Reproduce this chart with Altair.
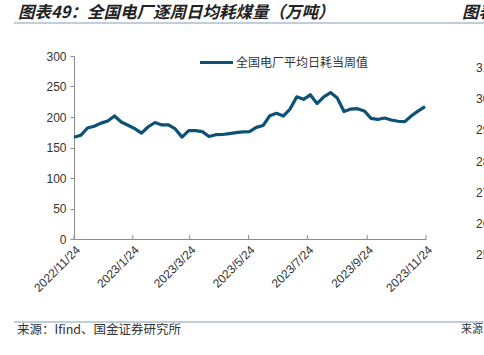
import altair as alt
import pandas as pd
import numpy as np

# ---- data ----
start_date = "2022-11-24"
n_weeks = 53
values = [166.9, 170, 182, 184.8, 190, 193.5, 201.6, 191.8, 186.4, 181, 173.5,
          184, 191, 187, 187, 180.4, 167, 177.7, 177.7, 176, 168, 171, 171.3,
          172.8, 174.5, 175.5, 176, 183, 186, 202, 206, 201.6, 213, 233, 229,
          236.4, 222, 233, 240, 231, 209, 213, 213.6, 210, 197.8, 196, 198.4,
          195, 193, 192.4, 202, 210, 216.9]
series_name = "全国电厂平均日耗当周值"
tick_dates = ["2022-11-24", "2023-01-24", "2023-03-24", "2023-05-24",
              "2023-07-24", "2023-09-24", "2023-11-24"]
y_ticks = [0, 50, 100, 150, 200, 250, 300]
title_text = "图表49：全国电厂逐周日均耗煤量（万吨）"
source_text = "来源：Ifind、国金证券研究所"
next_title = "图表50"
next_source = "来源"
next_axis_labels = ["310", "300", "290", "280", "270", "260", "250"]

dates = pd.date_range(start_date, periods=n_weeks, freq="7D")
df = pd.DataFrame({"date": dates.strftime("%Y-%m-%d"), "value": values,
                   "series": series_name})
ticks_df = pd.DataFrame({"date": tick_dates})

W, H = 352, 183
LINE_COLOR = "#0D5176"
RULE_COLOR = "#7F9DB8"
CJK = "Noto Sans CJK SC"
LAT = "Liberation Sans"

def dt(s):
    y, m, d = [int(v) for v in s.split("-")]
    return alt.DateTime(year=y, month=m, date=d, utc=True)

xscale = alt.Scale(type="utc", domain=[dt(tick_dates[0]), dt(tick_dates[-1])])

line = alt.Chart(df).mark_line(color=LINE_COLOR, strokeWidth=3.2, strokeJoin="round").encode(
    x=alt.X("date:T", scale=xscale,
            axis=alt.Axis(values=[dt(s) for s in tick_dates], title=None,
                          labelExpr="utcFormat(datum.value, '%Y/%-m/%-d')",
                          labelAngle=-45, labelFont=LAT, labelFontSize=12,
                          labelColor="#333333", domainColor="#8C8C8C",
                          ticks=False, labelPadding=5, grid=False)),
    y=alt.Y("value:Q", scale=alt.Scale(domain=[0, 300]),
            axis=alt.Axis(values=y_ticks, title=None, labelFont=LAT,
                          labelFontSize=12, labelColor="#333333",
                          domainColor="#8C8C8C", tickColor="#8C8C8C",
                          tickSize=4, labelPadding=4, grid=False)),
)

xticks = alt.Chart(ticks_df).mark_rule(color="#8C8C8C", strokeWidth=1).encode(
    x=alt.X("date:T", scale=xscale),
    y=alt.value(H - 4), y2=alt.value(H),
)

leg_df = pd.DataFrame({"t": [series_name]})
leg_line = alt.Chart(leg_df).mark_rule(color=LINE_COLOR, strokeWidth=3.2).encode(
    x=alt.value(126), x2=alt.value(159), y=alt.value(6.5))
leg_text = alt.Chart(leg_df).mark_text(align="left", baseline="middle", font=CJK,
                                       fontSize=12, color="#333333").encode(
    x=alt.value(162), y=alt.value(6.5), text="t:N")

title_df = pd.DataFrame({"t": [title_text]})
title = alt.Chart(title_df).mark_text(align="left", baseline="middle", font=CJK,
                                      fontSize=16.5, fontWeight="bold", fontStyle="italic",
                                      color="#222222").encode(
    x=alt.value(-56), y=alt.value(-43), text="t:N")
next_title_df = pd.DataFrame({"t": [next_title]})
title2 = alt.Chart(next_title_df).mark_text(align="left", baseline="middle", font=CJK,
                                            fontSize=16.5, fontWeight="bold", fontStyle="italic",
                                            color="#222222").encode(
    x=alt.value(388), y=alt.value(-43), text="t:N")

rule_df = pd.DataFrame({"t": [0]})
top_rule = alt.Chart(rule_df).mark_rule(color=RULE_COLOR, strokeWidth=1).encode(
    x=alt.value(-60), x2=alt.value(420), y=alt.value(-33))
bot_rule = alt.Chart(rule_df).mark_rule(color=RULE_COLOR, strokeWidth=1).encode(
    x=alt.value(-60), x2=alt.value(420), y=alt.value(266))

src_df = pd.DataFrame({"t": [source_text]})
src = alt.Chart(src_df).mark_text(align="left", baseline="middle", font=CJK,
                                  fontSize=12.5, color="#333333").encode(
    x=alt.value(-57), y=alt.value(274), text="t:N")
src2_df = pd.DataFrame({"t": [next_source]})
src2 = alt.Chart(src2_df).mark_text(align="left", baseline="middle", font=CJK,
                                    fontSize=11, color="#333333").encode(
    x=alt.value(387), y=alt.value(274), text="t:N")

nx_df = pd.DataFrame({"t": next_axis_labels, "i": list(range(len(next_axis_labels)))})
nx = alt.Chart(nx_df).transform_calculate(py="12 + datum.i * 31.2").mark_text(
    align="left", baseline="middle", font=LAT, fontSize=12, color="#333333").encode(
    x=alt.value(402), y=alt.Y("py:Q", scale=None), text="t:N")

chart = alt.layer(top_rule, bot_rule, title, title2, src, src2, nx, line, xticks,
                  leg_line, leg_text).properties(
    width=W, height=H,
    autosize=alt.AutoSizeParams(type="none"),
    padding={"left": 74, "top": 56, "right": 484 - 74 - W, "bottom": 355 - 56 - H},
    background="white",
).configure_view(stroke=None)

chart.save("out.html", embed_options={"renderer": "svg", "actions": False})
